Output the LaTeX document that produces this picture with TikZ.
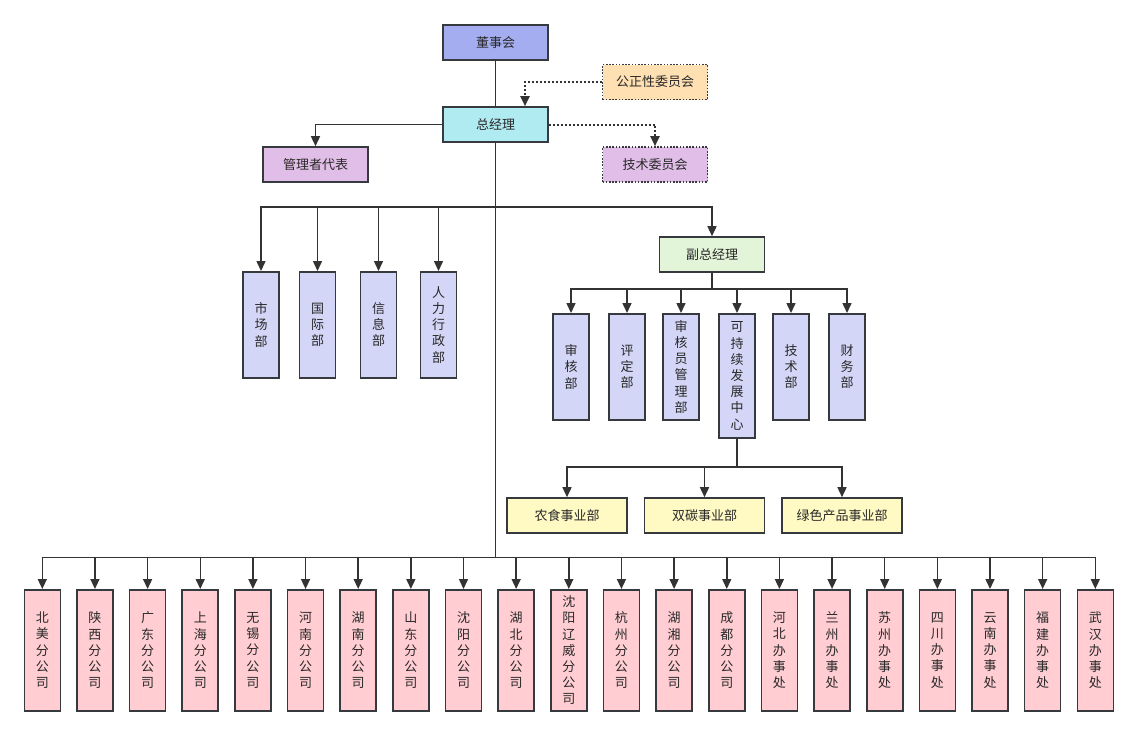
\documentclass[tikz,border=0pt]{standalone}
\usepackage{fontspec}
\setmainfont{Noto Sans CJK SC}
\usetikzlibrary{arrows.meta}
\definecolor{edgegray}{RGB}{54,57,61}
\definecolor{linegray}{RGB}{51,51,51}
\definecolor{txtgray}{RGB}{40,40,40}
\definecolor{boardblue}{RGB}{164,173,240}
\definecolor{ceocyan}{RGB}{176,235,242}
\definecolor{lilac}{RGB}{225,190,231}
\definecolor{apricot}{RGB}{255,224,178}
\definecolor{palegreen}{RGB}{227,245,216}
\definecolor{lavender}{RGB}{211,214,247}
\definecolor{paleyellow}{RGB}{255,249,196}
\definecolor{palepink}{RGB}{255,205,210}

\begin{document}
\begin{tikzpicture}[x=1pt, y=-1pt, >={Triangle[length=10pt,width=9pt]},
          font=\fontsize{13}{16.2}\selectfont, text=txtgray,
          box/.style={draw=edgegray, line width=1.6pt, minimum width=105pt, minimum height=35pt, inner sep=0pt},
          dotbox/.style={box, dash pattern=on 1.6pt off 1.6pt},
          vbox/.style={draw=edgegray, line width=1.6pt, minimum width=36pt, inner sep=0pt, align=center},
          conn/.style={draw=linegray, line width=1.5pt},
          dotconn/.style={conn, line width=2pt, dash pattern=on 2pt off 2pt}]
        \useasboundingbox (0,0) rectangle (1137,734);
        % top of the chart
        \node[box, fill=boardblue] (dsh) at (495.5,42.5) {董事会};
        \node[box, fill=ceocyan] (zjl) at (495.5,124.5) {总经理};
        \node[dotbox, fill=apricot] (gzx) at (655,82) {公正性委员会};
        \node[box, fill=lilac] (glz) at (315.5,164.5) {管理者代表};
        \node[dotbox, fill=lilac] (jswy) at (655,164.5) {技术委员会};
        \draw[conn] (dsh.south) -- (zjl.north);
        \draw[dotconn, ->] (gzx.west) -| ([xshift=29.5pt]zjl.north);
        \draw[dotconn, ->] (zjl.east) -| (jswy.north);
        \draw[conn, ->] (zjl.west) -| (glz.north);
        % trunk down to the branch offices
        \coordinate (dbus) at (495.5,207);
        \coordinate (bbus) at (495.5,557.5);
        \draw[conn] (zjl.south) -- (bbus);
        % departments under the general manager
        \foreach \x/\name [count=\i] in {261/{市\\场\\部}, 317.5/{国\\际\\部}, 378.5/{信\\息\\部}, 438.5/{人\\力\\行\\政\\部}} {
          \node[vbox, fill=lavender, minimum height=106pt, anchor=north] (d\i) at (\x,271) {\name};
          \draw[conn, ->] (dbus) -| (d\i.north);
        }
        \node[box, fill=palegreen] (fzjl) at (712,254.5) {副总经理};
        \draw[conn, ->] (dbus) -| (fzjl.north);
        % departments under the deputy
        \coordinate (fbus) at (712,289);
        \draw[conn] (fzjl.south) -- (fbus);
        \foreach \x/\h/\name [count=\i] in {571/106pt/{审\\核\\部}, 627/106pt/{评\\定\\部}, 681/106pt/{审\\核\\员\\管\\理\\部},
            737/124pt/{可\\持\\续\\发\\展\\中\\心}, 791/106pt/{技\\术\\部}, 847/106pt/{财\\务\\部}} {
          \node[vbox, fill=lavender, minimum height=\h, anchor=north] (s\i) at (\x,313) {\name};
          \draw[conn, ->] (fbus) -| (s\i.north);
        }
        % business units
        \coordinate (ybus) at (737,467);
        \draw[conn] (s4.south) -- (ybus);
        \foreach \x/\name [count=\i] in {567/农食事业部, 704.5/双碳事业部, 842/绿色产品事业部} {
          \node[box, fill=paleyellow, minimum width=120pt] (y\i) at (\x,515.5) {\name};
          \draw[conn, ->] (ybus) -| (y\i.north);
        }
        % branch offices, 21 boxes spaced 52.65
        \foreach \name [count=\i from 0] in {{北\\美\\分\\公\\司}, {陕\\西\\分\\公\\司}, {广\\东\\分\\公\\司}, {上\\海\\分\\公\\司},
            {无\\锡\\分\\公\\司}, {河\\南\\分\\公\\司}, {湖\\南\\分\\公\\司}, {山\\东\\分\\公\\司}, {沈\\阳\\分\\公\\司},
            {湖\\北\\分\\公\\司}, {沈\\阳\\辽\\威\\分\\公\\司}, {杭\\州\\分\\公\\司}, {湖\\湘\\分\\公\\司}, {成\\都\\分\\公\\司},
            {河\\北\\办\\事\\处}, {兰\\州\\办\\事\\处}, {苏\\州\\办\\事\\处}, {四\\川\\办\\事\\处}, {云\\南\\办\\事\\处},
            {福\\建\\办\\事\\处}, {武\\汉\\办\\事\\处}} {
          \node[vbox, fill=palepink, minimum height=121pt, anchor=north] (b\i) at (42.3+52.65*\i,589) {\name};
          \draw[conn, ->] (bbus) -| (b\i.north);
        }
      \end{tikzpicture}
\end{document}
